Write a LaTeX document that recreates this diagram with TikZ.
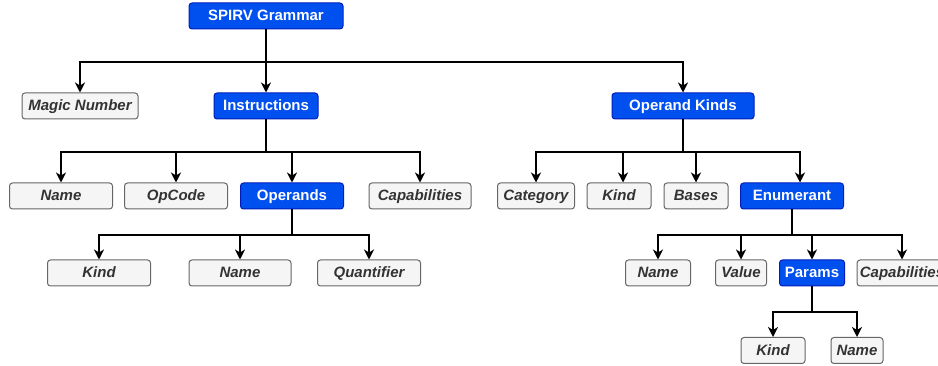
\documentclass[tikz,border=0pt]{standalone}
\usepackage{fontspec}
\setmainfont{Liberation Sans}
\usetikzlibrary{arrows.meta}
\definecolor{bluefill}{HTML}{0050EF}
\definecolor{blueline}{HTML}{001DBC}
\definecolor{greyfill}{HTML}{F5F5F5}
\definecolor{greyline}{HTML}{666666}
\definecolor{greytext}{HTML}{333333}
\tikzset{
  box/.style={rectangle, rounded corners=3pt, line width=1pt, minimum height=26pt, inner sep=0pt,
    text height=10pt, text depth=0pt, font=\fontsize{15pt}{18pt}\selectfont\bfseries},
  bluebox/.style={box, fill=bluefill, draw=blueline, text=white},
  greybox/.style={box, fill=greyfill, draw=greyline, text=greytext, font=\fontsize{15pt}{18pt}\selectfont\bfseries\itshape},
  arr/.style={line width=1.6pt, -{Stealth[length=10pt, width=10pt, inset=3pt]}}
}
\begin{document}
\begin{tikzpicture}[x=1pt,y=-1pt]
\useasboundingbox (0,0) rectangle (938,366);
% nodes
\node[bluebox, minimum width=154pt] (root) at (266,16) {SPIRV Grammar};
\node[greybox, minimum width=116pt] (magic) at (80,106) {Magic Number};
\node[bluebox, minimum width=104pt] (instr) at (266,106) {Instructions};
\node[bluebox, minimum width=142pt] (opk) at (683,106) {Operand Kinds};
\node[greybox, minimum width=103pt] (name1) at (61,196) {Name};
\node[greybox, minimum width=103pt] (opcode) at (176,196) {OpCode};
\node[bluebox, minimum width=103pt] (operands) at (292,196) {Operands};
\node[greybox, minimum width=102pt] (cap1) at (420,196) {Capabilities};
\node[greybox, minimum width=103pt] (kind1) at (99,273) {Kind};
\node[greybox, minimum width=102pt] (name2) at (240,273) {Name};
\node[greybox, minimum width=103pt] (quant) at (369,273) {Quantifier};
\node[greybox, minimum width=77pt] (category) at (536,196) {Category};
\node[greybox, minimum width=64pt] (kind2) at (619,196) {Kind};
\node[greybox, minimum width=64pt] (bases) at (696,196) {Bases};
\node[bluebox, minimum width=103pt] (enum) at (792,196) {Enumerant};
\node[greybox, minimum width=65pt] (name3) at (658,273) {Name};
\node[greybox, minimum width=51pt] (value) at (741,273) {Value};
\node[bluebox, minimum width=65pt] (params) at (812,273) {Params};
\node[greybox, minimum width=90pt] (cap2) at (902,273) {Capabilities};
\node[greybox, minimum width=64pt] (kind3) at (773,350.5) {Kind};
\node[greybox, minimum width=52pt] (name4) at (857,350.5) {Name};
% bus levels
\coordinate (b1) at (0,62);
\coordinate (b2) at (0,152);
\coordinate (b3) at (0,235);
\coordinate (b5) at (0,312);
% connectors
\draw[arr] (root.south) -- (root.south |- b1) -| (magic.north);
\draw[arr] (root.south) -- (instr.north);
\draw[arr] (root.south) -- (root.south |- b1) -| (opk.north);
\foreach \c in {name1,opcode,operands,cap1}
  \draw[arr] (instr.south) -- (instr.south |- b2) -| (\c.north);
\foreach \c in {kind1,name2,quant}
  \draw[arr] (operands.south) -- (operands.south |- b3) -| (\c.north);
\draw[arr] (opk.south) -- (opk.south |- b2) -| (category.north);
\draw[arr] (opk.south) -- (opk.south |- b2) -| ([xshift=4pt]kind2.north);
\draw[arr] (opk.south) -- (opk.south |- b2) -| (bases.north);
\draw[arr] (opk.south) -- (opk.south |- b2) -| ([xshift=8pt]enum.north);
\foreach \c in {name3,value,params,cap2}
  \draw[arr] (enum.south) -- (enum.south |- b3) -| (\c.north);
\foreach \c in {kind3,name4}
  \draw[arr] (params.south) -- (params.south |- b5) -| (\c.north);
\end{tikzpicture}
\end{document}
